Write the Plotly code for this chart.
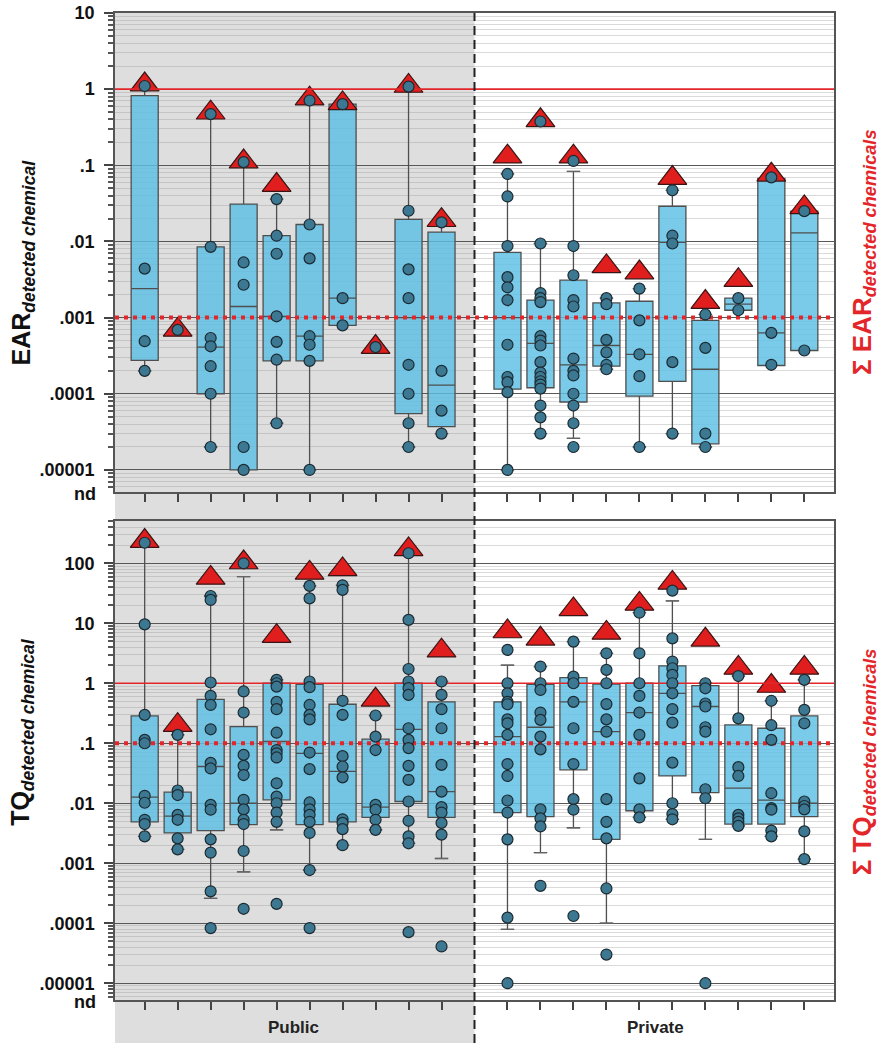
import plotly.graph_objects as go

# ---------------- data ----------------
SITE_POS = [1, 2, 3, 4, 5, 6, 7, 8, 9, 10, 12, 13, 14, 15, 16, 17, 18, 19, 20, 21]
GROUP_LABELS = ["Public", "Private"]
DIVIDER_POS = 11

EAR_TICKVALS = [1e-5, 1e-4, 1e-3, 1e-2, 1e-1, 1, 10]
EAR_TICKTEXT = [".00001", ".0001", ".001", ".01", ".1", "1", "10"]
TQ_TICKVALS = [1e-5, 1e-4, 1e-3, 1e-2, 1e-1, 1, 10, 100]
TQ_TICKTEXT = [".00001", ".0001", ".001", ".01", ".1", "1", "10", "100"]

EAR_POINTS = [
    [1.1, 0.0044, 4.9e-4, 2.0e-4],
    [6.9e-4],
    [0.47, 0.0085, 5.4e-4, 4.2e-4, 2.3e-4, 1.0e-4, 2.0e-5],
    [0.11, 0.0053, 0.0027, 2.0e-5, 1.0e-5],
    [0.036, 0.0119, 0.0069, 0.00104, 4.8e-4, 2.8e-4, 4.1e-5],
    [0.71, 0.0167, 0.006, 5.7e-4, 4.4e-4, 2.7e-4, 1.0e-5],
    [0.635, 0.0018, 7.9e-4],
    [4.1e-4],
    [1.08, 0.0253, 0.0043, 0.0018, 2.4e-4, 1.0e-4, 4.1e-5, 2.0e-5],
    [0.0178, 2.0e-4, 6.0e-5, 3.0e-5],
    [0.077, 0.039, 0.0087, 0.0034, 0.0025, 0.0017, 4.4e-4, 1.66e-4, 1.42e-4, 1.05e-4, 1.0e-5],
    [0.376, 0.0094, 0.0021, 0.0018, 0.0016, 5.7e-4, 5.0e-4, 4.3e-4, 2.6e-4, 1.9e-4, 1.66e-4,
     1.46e-4, 1.32e-4, 1.17e-4, 7.0e-5, 4.9e-5, 3.0e-5],
    [0.114, 0.0087, 0.0036, 0.0017, 0.0014, 2.9e-4, 2.0e-4, 1.74e-4, 1.0e-4, 7.0e-5, 4.1e-5, 2.0e-5],
    [0.0018, 0.0015, 5.1e-4, 3.5e-4, 2.4e-4, 2.1e-4],
    [0.0024, 9.2e-4, 3.3e-4, 1.7e-4, 2.0e-5],
    [0.047, 0.0119, 0.0094, 2.6e-4, 3.0e-5],
    [0.0011, 4.0e-4, 3.0e-5, 2.0e-5],
    [0.0018, 0.00125],
    [0.0695, 6.3e-4, 2.4e-4],
    [0.025, 3.7e-4],
]
EAR_SUM = [1.15, 6.9e-4, 0.49, 0.112, 0.055, 0.75, 0.65, 4.1e-4, 1.1, 0.019,
           0.13, 0.39, 0.13, 0.0047, 0.0039, 0.068, 0.0016, 0.0031, 0.075, 0.028]
EAR_Q1 = [2.75e-4, None, 1.0e-4, 1.0e-5, 2.7e-4, 2.7e-4, 7.9e-4, None, 5.5e-5, 3.7e-5,
          1.15e-4, 1.2e-4, 7.8e-5, 2.3e-4, 9.3e-5, 1.45e-4, 2.2e-5, 0.00125, 2.35e-4, 3.7e-4]
EAR_MED = [0.0024, None, 4.1e-4, 0.0014, 0.00104, 5.7e-4, 0.0018, None, 0.001, 1.3e-4,
           0.001, 4.6e-4, 2.4e-4, 4.3e-4, 3.3e-4, 0.0097, 2.1e-4, 0.0015, 6.3e-4, 0.013]
EAR_Q3 = [0.82, None, 0.0085, 0.031, 0.0119, 0.0167, 0.635, None, 0.0195, 0.0133,
          0.0072, 0.0017, 0.0031, 0.00156, 0.00164, 0.029, 9.2e-4, 0.0018, 0.0675, 0.025]
EAR_LO = [2.0e-4, None, 2.0e-5, 1.0e-5, 4.1e-5, 1.0e-5, 7.9e-4, None, 2.0e-5, 3.0e-5,
          1.0e-5, 3.0e-5, 2.6e-5, 2.1e-4, 2.0e-5, 3.0e-5, 2.0e-5, 0.00125, 2.35e-4, 3.7e-4]
EAR_HI = [1.1, None, 0.47, 0.11, 0.036, 0.71, 0.635, None, 1.08, 0.0178,
          0.077, 0.0094, 0.083, 0.0018, 0.0024, 0.047, 0.0011, 0.0018, 0.0695, 0.025]

TQ_POINTS = [
    [220, 9.6, 0.297, 0.114, 0.1, 0.0133, 0.0102, 0.0053, 0.0045, 0.0028],
    [0.138, 0.0163, 0.0137, 0.0064, 0.0053, 0.0026, 0.0017],
    [28.5, 24.5, 1.03, 0.615, 0.435, 0.171, 0.047, 0.038, 0.0094, 0.0078, 0.0025, 0.0015, 3.4e-4, 8.3e-5],
    [100, 0.73, 0.325, 0.064, 0.042, 0.0295, 0.0114, 0.0079, 0.0053, 0.0045, 0.0016, 1.74e-4],
    [1.14, 1.0, 0.88, 0.49, 0.37, 0.15, 0.077, 0.068, 0.058, 0.0215, 0.0129, 0.01, 0.0070, 0.0049, 2.1e-4],
    [42, 26, 1.07, 0.86, 0.435, 0.297, 0.25, 0.07, 0.037, 0.0103, 0.0079, 0.0064, 0.0049, 0.0032, 7.7e-4, 8.3e-5],
    [43, 36, 0.51, 0.297, 0.061, 0.041, 0.027, 0.0054, 0.0047, 0.0037, 0.002],
    [0.29, 0.129, 0.077, 0.0094, 0.0078, 0.0053, 0.0036],
    [147, 11.4, 1.73, 1.07, 0.83, 0.64, 0.178, 0.114, 0.083, 0.042, 0.0245, 0.0107, 0.0051, 0.0028, 0.00215, 7.1e-5],
    [1.07, 0.64, 0.37, 0.178, 0.0436, 0.0156, 0.0086, 0.007, 0.0047, 0.003, 4.1e-5],
    [3.6, 1.0, 0.68, 0.49, 0.447, 0.25, 0.215, 0.138, 0.045, 0.0285, 0.0111, 0.007, 0.0025, 1.24e-4, 1.0e-5],
    [1.9, 1.0, 0.774, 0.325, 0.245, 0.129, 0.079, 0.0079, 0.0056, 0.0041, 4.2e-4],
    [4.95, 1.29, 1.0, 0.49, 0.178, 0.045, 0.0117, 0.0078, 1.32e-4],
    [3.16, 1.67, 1.0, 0.45, 0.25, 0.156, 0.0117, 0.0049, 0.0026, 3.8e-4, 3.0e-5],
    [15, 3.16, 1.0, 0.615, 0.325, 0.138, 0.026, 0.0079, 0.0058],
    [35, 5.6, 2.3, 1.78, 1.38, 1.0, 0.68, 0.37, 0.221, 0.0476, 0.01, 0.0066, 0.0054],
    [1.0, 0.825, 0.46, 0.41, 0.185, 0.156, 0.0171, 0.0121, 1.0e-5],
    [1.32, 0.26, 0.04, 0.0285, 0.0064, 0.0056, 0.0049, 0.0042],
    [0.51, 0.2, 0.114, 0.0147, 0.0083, 0.0078, 0.0035, 0.0028],
    [1.14, 0.36, 0.215, 0.0107, 0.009, 0.0079, 0.0034, 0.00117],
]
TQ_SUM = [235, 0.2, 57, 103, 6.1, 69, 79, 0.53, 170, 3.5,
          7.3, 5.5, 17, 6.9, 21, 47, 5.3, 1.8, 0.9, 1.8]
TQ_Q1 = [0.0049, 0.0032, 0.0035, 0.0044, 0.0114, 0.0044, 0.0049, 0.0058, 0.0107, 0.0058,
         0.007, 0.006, 0.036, 0.0025, 0.0075, 0.0285, 0.015, 0.0045, 0.0045, 0.006]
TQ_MED = [0.0126, 0.0061, 0.041, 0.01, 0.107, 0.068, 0.034, 0.0086, 0.171, 0.0156,
          0.129, 0.185, 0.49, 0.156, 0.325, 0.68, 0.41, 0.0178, 0.0113, 0.01]
TQ_Q3 = [0.286, 0.0153, 0.54, 0.19, 1.0, 0.96, 0.447, 0.117, 1.0, 0.49,
         0.49, 0.96, 1.24, 0.97, 1.0, 1.95, 0.915, 0.202, 0.178, 0.286]
TQ_LO = [0.0028, 0.0017, 2.6e-4, 7.2e-4, 0.0036, 7.7e-4, 0.002, 0.0036, 0.00215, 0.0012,
         7.9e-5, 0.0015, 0.0039, 1.0e-4, 0.0058, 0.0054, 0.0025, 0.0042, 0.0028, 0.00117]
TQ_HI = [220, 0.138, 28.5, 60, 1.14, 42, 43, 0.29, 147, 1.07,
         2.0, 1.9, 4.95, 3.16, 15, 23.6, 1.0, 1.32, 0.51, 1.14]

EAR_THRESHOLD = 1
EAR_SUM_THRESHOLD = 0.001
TQ_THRESHOLD = 1
TQ_SUM_THRESHOLD = 0.1

# ---------------- style ----------------
W, H = 886, 1050
XDOM = [115 / W, 834 / W]
XRANGE = [0.1, 21.9]
TOP_DOM = [1 - 492 / H, 1 - 13 / H]
BOT_DOM = [1 - 1000 / H, 1 - 521 / H]
FONT = "Liberation Sans, Arial, sans-serif"
BOX_FILL = "rgba(92,192,228,0.82)"
BOX_LINE = "#4f4f4f"
PT_FILL = "#3c7891"
PT_LINE = "#1c2a31"
TRI_FILL = "#e01e1e"
TRI_LINE = "#3a1414"
RED = "#e3262a"


def paper_x(v):
    return XDOM[0] + (v - XRANGE[0]) / (XRANGE[1] - XRANGE[0]) * (XDOM[1] - XDOM[0])


def minor_vals(lo_exp, hi_exp):
    out = []
    for d in range(lo_exp, hi_exp + 1):
        for m in range(2, 10):
            out.append(m * 10.0 ** d)
    return out


fig = go.Figure()


def add_panel(points, sums, q1, med, q3, lo, hi, thr, sthr, xa, ya):
    # sum triangles (drawn first, beneath the boxes)
    fig.add_trace(go.Scatter(
        x=SITE_POS, y=sums, mode="markers", xaxis=xa, yaxis=ya,
        marker=dict(symbol="triangle-up", size=25, color=TRI_FILL,
                    line=dict(color=TRI_LINE, width=1.2)),
        showlegend=False, hoverinfo="skip", cliponaxis=False))
    # boxes
    bx, bq1, bmed, bq3, blo, bhi = [], [], [], [], [], []
    for i, p in enumerate(SITE_POS):
        if q1[i] is None:
            continue
        bx.append(p); bq1.append(q1[i]); bmed.append(med[i]); bq3.append(q3[i])
        blo.append(lo[i]); bhi.append(hi[i])
    fig.add_trace(go.Box(
        x=bx, q1=bq1, median=bmed, q3=bq3, lowerfence=blo, upperfence=bhi,
        width=0.82, fillcolor=BOX_FILL, line=dict(color=BOX_LINE, width=1.3),
        boxpoints=False, xaxis=xa, yaxis=ya, showlegend=False, hoverinfo="skip"))
    # whisker caps
    cx, cy = [], []
    for i, p in enumerate(SITE_POS):
        if q1[i] is None:
            continue
        if lo[i] < q1[i]:
            cx.append(p); cy.append(lo[i])
        if hi[i] > q3[i]:
            cx.append(p); cy.append(hi[i])
    fig.add_trace(go.Scatter(
        x=cx, y=cy, mode="markers", xaxis=xa, yaxis=ya,
        marker=dict(symbol="line-ew", size=9, line=dict(color="#666", width=1.2)),
        showlegend=False, hoverinfo="skip"))
    # reference lines
    fig.add_trace(go.Scatter(
        x=XRANGE, y=[thr, thr], mode="lines", xaxis=xa, yaxis=ya,
        line=dict(color=RED, width=1.6), showlegend=False, hoverinfo="skip"))
    fig.add_trace(go.Scatter(
        x=XRANGE, y=[sthr, sthr], mode="lines", xaxis=xa, yaxis=ya,
        line=dict(color=RED, width=4, dash="4px,5px"), showlegend=False, hoverinfo="skip"))
    # individual chemical points
    px, py = [], []
    for p, vals in zip(SITE_POS, points):
        px += [p] * len(vals)
        py += vals
    fig.add_trace(go.Scatter(
        x=px, y=py, mode="markers", xaxis=xa, yaxis=ya,
        marker=dict(symbol="circle", size=11, color=PT_FILL, line=dict(color=PT_LINE, width=1.2)),
        showlegend=False, hoverinfo="skip", cliponaxis=False))


add_panel(EAR_POINTS, EAR_SUM, EAR_Q1, EAR_MED, EAR_Q3, EAR_LO, EAR_HI,
          EAR_THRESHOLD, EAR_SUM_THRESHOLD, "x", "y")
add_panel(TQ_POINTS, TQ_SUM, TQ_Q1, TQ_MED, TQ_Q3, TQ_LO, TQ_HI,
          TQ_THRESHOLD, TQ_SUM_THRESHOLD, "x2", "y2")

xcommon = dict(range=XRANGE, tickvals=SITE_POS, showticklabels=False,
               ticks="outside", ticklen=8, tickwidth=1.5, tickcolor="#444",
               showgrid=False, zeroline=False, showline=True, linecolor="#555",
               linewidth=1.5, mirror=True, domain=XDOM, automargin=False)

ycommon = dict(type="log", ticks="outside", ticklen=9, tickwidth=1.5, tickcolor="#444",
               showgrid=True, gridcolor="#585858", gridwidth=1.3, zeroline=False,
               showline=True, linecolor="#555", linewidth=1.5, mirror=True,
               tickfont=dict(family=FONT, size=18, color="#111", weight="bold"),
               ticklabelstandoff=6, automargin=False)

fig.update_layout(
    width=W, height=H, margin=dict(l=0, r=0, t=0, b=0, autoexpand=False),
    paper_bgcolor="white", plot_bgcolor="rgba(0,0,0,0)",
    font=dict(family=FONT),
    xaxis=dict(anchor="y", **xcommon),
    xaxis2=dict(anchor="y2", matches="x", **xcommon),
    yaxis=dict(domain=TOP_DOM, anchor="x", range=[-5.29, 1.0],
               tickvals=EAR_TICKVALS, ticktext=EAR_TICKTEXT,
               minor=dict(tickvals=minor_vals(-6, 0), ticks="outside", ticklen=5,
                          tickcolor="#555", showgrid=True,
                          gridcolor="rgba(150,150,150,0.35)", gridwidth=1),
               **ycommon),
    yaxis2=dict(domain=BOT_DOM, anchor="x2", range=[-5.28, 2.705],
                tickvals=TQ_TICKVALS, ticktext=TQ_TICKTEXT,
                minor=dict(tickvals=minor_vals(-6, 2), ticks="outside", ticklen=5,
                           tickcolor="#555", showgrid=True,
                           gridcolor="rgba(150,150,150,0.35)", gridwidth=1),
                **ycommon),
)

xdiv = paper_x(DIVIDER_POS)
fig.add_shape(type="rect", xref="paper", yref="paper", x0=XDOM[0], x1=xdiv,
              y0=1 - 1043 / H, y1=TOP_DOM[1], fillcolor="#dedede", line=dict(width=0),
              layer="below")
fig.add_shape(type="line", xref="paper", yref="paper", x0=xdiv, x1=xdiv,
              y0=1 - 1043 / H, y1=TOP_DOM[1], line=dict(color="#222", width=2, dash="9px,5px"),
              layer="above")

ann = []
ann.append(dict(text="<b>EAR<sub><i>detected chemical</i></sub></b>", x=22 / W, y=0.75,
                textangle=-90, font=dict(size=25, color="#111", family=FONT)))
ann.append(dict(text="<b>TQ<sub><i>detected chemical</i></sub></b>", x=22 / W, y=0.303,
                textangle=-90, font=dict(size=25, color="#111", family=FONT)))
ann.append(dict(text="<b>\u03a3 EAR<sub><i>detected chemicals</i></sub></b>", x=863 / W, y=0.76,
                textangle=-90, font=dict(size=26, color=RED, family=FONT)))
ann.append(dict(text="<b>\u03a3 TQ<sub><i>detected chemicals</i></sub></b>", x=863 / W, y=0.274,
                textangle=-90, font=dict(size=26, color=RED, family=FONT)))
ann.append(dict(text="<b>nd</b>", x=98 / W, y=1 - 494 / H, xanchor="right",
                font=dict(size=18, color="#111", family=FONT)))
ann.append(dict(text="<b>nd</b>", x=98 / W, y=1 - 1002 / H, xanchor="right",
                font=dict(size=18, color="#111", family=FONT)))
ann.append(dict(text="<b>" + GROUP_LABELS[0] + "</b>", x=paper_x(5.5), y=1 - 1027 / H,
                font=dict(size=17, color="#222", family=FONT)))
ann.append(dict(text="<b>" + GROUP_LABELS[1] + "</b>", x=paper_x(16.5), y=1 - 1027 / H,
                font=dict(size=17, color="#222", family=FONT)))
for a in ann:
    a.setdefault("xanchor", "center")
    fig.add_annotation(xref="paper", yref="paper", showarrow=False, yanchor="middle", **a)

fig.write_html("out.html", config={"displayModeBar": False},
               post_script="document.body.style.margin='0px';")
